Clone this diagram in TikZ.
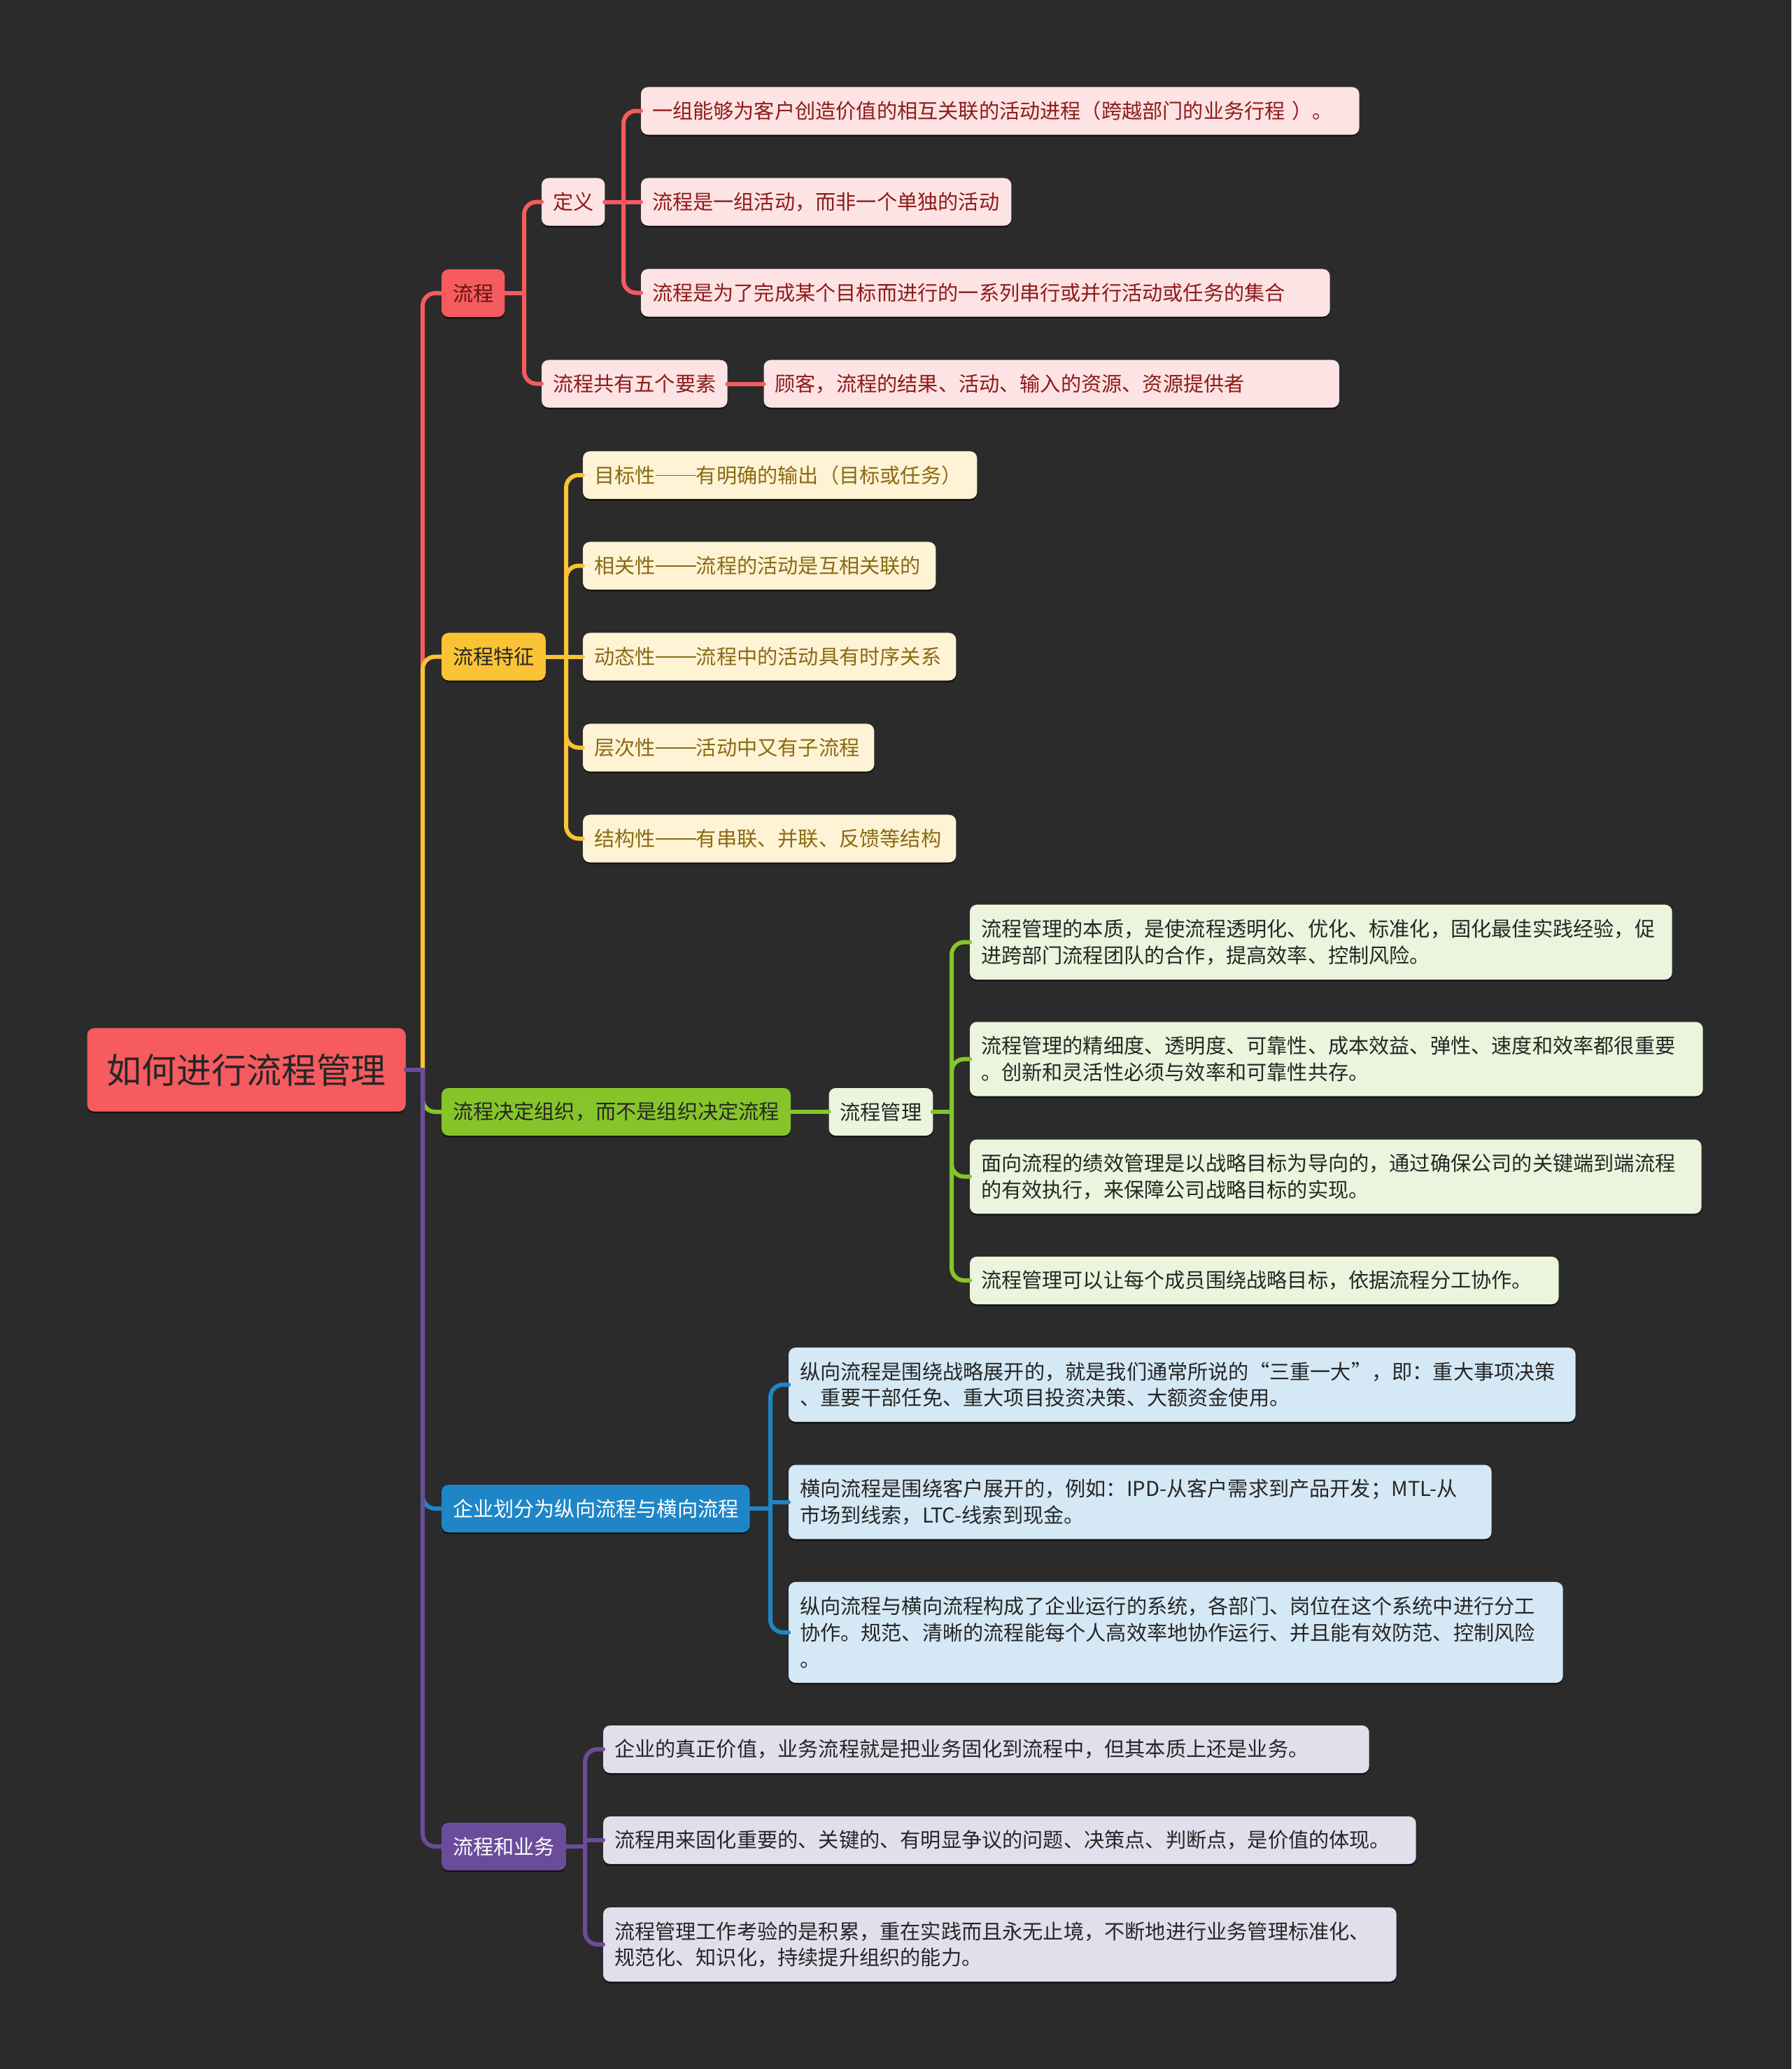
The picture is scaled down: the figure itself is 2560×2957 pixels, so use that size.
\documentclass[tikz,border=0pt]{standalone}
\usepackage{fontspec}
\newfontfamily\cjk{Noto Sans CJK SC}
\usetikzlibrary{shadows}
\definecolor{bg}{HTML}{2B2B2B}
\definecolor{cred}{HTML}{F55B5F}
\definecolor{credl}{HTML}{FDE3E3}
\definecolor{credt}{HTML}{8E1B1B}
\definecolor{cyel}{HTML}{F9C335}
\definecolor{cyell}{HTML}{FEF3D5}
\definecolor{cyelt}{HTML}{8B6A12}
\definecolor{cgrn}{HTML}{86C52A}
\definecolor{cgrnl}{HTML}{EBF4DC}
\definecolor{cblu}{HTML}{1E86C7}
\definecolor{cblul}{HTML}{D5E8F5}
\definecolor{cpur}{HTML}{6B4C9B}
\definecolor{cpurl}{HTML}{E3DEEC}
\definecolor{dtext}{HTML}{262626}
\newcommand\cjkdash{\makebox[2em]{\rule[0.33em]{2em}{0.055em}}}
\newcommand\connR[4]{%
  \draw[ln,#1] (#2.east) -- (#2.east -| #3);
  \draw[ln,#1,rounded corners=0.18cm] (#2.east -| #3) -- (#4.west -| #3) -- (#4.west);}
\newcommand\connS[4]{%
  \draw[ln,#1] (#2.east) -- (#2.east -| #3) -- (#4.west -| #3) -- (#4.west);}
\begin{document}
\begin{tikzpicture}[x=0.01cm,y=-0.01cm,
  box/.style={rounded corners=0.1cm, inner xsep=0.16cm, inner ysep=0pt, outer sep=0pt,
    minimum height=0.68cm, anchor=west, align=left,
    font=\cjk\fontsize{8.3pt}{10.7pt}\selectfont,
    drop shadow={shadow xshift=0pt,shadow yshift=-0.025cm,opacity=0.55,fill=black}},
  rootbox/.style={box, fill=cred, text=dtext, minimum height=1.19cm, minimum width=4.55cm,
    align=center, font=\cjk\fontsize{14.2pt}{17pt}\selectfont},
  rmain/.style={box, fill=cred, text=credt!70!black},
  rleaf/.style={box, fill=credl, text=credt},
  ymain/.style={box, fill=cyel, text=dtext},
  yleaf/.style={box, fill=cyell, text=cyelt},
  gmain/.style={box, fill=cgrn, text=dtext},
  gleaf/.style={box, fill=cgrnl, text=dtext},
  bmain/.style={box, fill=cblu, text=white},
  bleaf/.style={box, fill=cblul, text=dtext},
  pmain/.style={box, fill=cpur, text=white},
  pleaf/.style={box, fill=cpurl, text=dtext},
  ln/.style={line width=0.06cm, line cap=round},
]
\fill[bg] (0,0) rectangle (2560,2957);
\useasboundingbox (0,0) rectangle (2560,2957);

% trunk x positions
\coordinate (tmain) at (604,0);
\coordinate (tliu) at (749,0);
\coordinate (tdef) at (891,0);
\coordinate (ttez) at (809,0);
\coordinate (tgl) at (1360,0);
\coordinate (tqy) at (1101,0);
\coordinate (tyw) at (836,0);

% root
\node[rootbox] (root) at (124.5,1529) {如何进行流程管理};

% level 1
\node[rmain] (liu) at (631,419) {流程};
\node[ymain] (tez) at (631,938.5) {流程特征};
\node[gmain] (jd) at (631,1589) {流程决定组织，而不是组织决定流程};
\node[bmain] (qy) at (631,2156) {企业划分为纵向流程与横向流程};
\node[pmain] (yw) at (631,2639) {流程和业务};

% red
\node[rleaf] (def) at (774,288.5) {定义};
\node[rleaf] (wys) at (774,548.5) {流程共有五个要素};
\node[rleaf, text width=9.94cm] (d1) at (916,158.5) {\mbox{一组能够为客户创造价值的相互关联的活动进程（跨越部门的业务行程 ）。}};
\node[rleaf, text width=4.97cm] (d2) at (916,288.5) {流程是一组活动，而非一个单独的活动};
\node[rleaf, text width=9.52cm] (d3) at (916,418.5) {流程是为了完成某个目标而进行的一系列串行或并行活动或任务的集合};
\node[rleaf, text width=7.90cm] (gk) at (1091.5,548.5) {顾客，流程的结果、活动、输入的资源、资源提供者};

% yellow
\node[yleaf, text width=5.31cm] (y1) at (833,679) {目标性\cjkdash 有明确的输出（目标或任务）};
\node[yleaf, text width=4.72cm] (y2) at (833,808.5) {相关性\cjkdash 流程的活动是互相关联的};
\node[yleaf, text width=5.01cm] (y3) at (833,938.5) {动态性\cjkdash 流程中的活动具有时序关系};
\node[yleaf, text width=3.84cm] (y4) at (833,1068.5) {层次性\cjkdash 活动中又有子流程};
\node[yleaf, text width=5.01cm] (y5) at (833,1198.5) {结构性\cjkdash 有串联、并联、反馈等结构};

% green
\node[gleaf] (glm) at (1184.5,1589) {流程管理};
\node[gleaf, text width=9.71cm, minimum height=1.07cm] (g1) at (1386,1346.5) {流程管理的本质，是使流程透明化、优化、标准化，固化最佳实践经验，促\\进跨部门流程团队的合作，提高效率、控制风险。};
\node[gleaf, text width=10.15cm, minimum height=1.06cm] (g2) at (1386,1513.6) {流程管理的精细度、透明度、可靠性、成本效益、弹性、速度和效率都很重要\\。创新和灵活性必须与效率和可靠性共存。};
\node[gleaf, text width=10.13cm, minimum height=1.06cm] (g3) at (1386,1681.6) {面向流程的绩效管理是以战略目标为导向的，通过确保公司的关键端到端流程\\的有效执行，来保障公司战略目标的实现。};
\node[gleaf, text width=8.09cm] (g4) at (1386,1830) {流程管理可以让每个成员围绕战略目标，依据流程分工协作。};

% blue
\node[bleaf, text width=10.92cm, minimum height=1.06cm] (b1) at (1127,1979) {\mbox{纵向流程是围绕战略展开的，就是我们通常所说的“三重一大”，即：重大事项决策}\\、重要干部任免、重大项目投资决策、大额资金使用。};
\node[bleaf, text width=9.72cm, minimum height=1.06cm] (b2) at (1127,2146.6) {\mbox{横向流程是围绕客户展开的，例如：IPD-从客户需求到产品开发；MTL-从}\\\mbox{市场到线索，LTC-线索到现金。}};
\node[bleaf, text width=10.74cm, minimum height=1.44cm] (b3) at (1127,2333) {纵向流程与横向流程构成了企业运行的系统，各部门、岗位在这个系统中进行分工\\协作。规范、清晰的流程能每个人高效率地协作运行、并且能有效防范、控制风险\\。};

% purple
\node[pleaf, text width=10.62cm] (p1) at (862,2500) {企业的真正价值，业务流程就是把业务固化到流程中，但其本质上还是业务。};
\node[pleaf, text width=11.29cm] (p2) at (862,2630) {流程用来固化重要的、关键的、有明显争议的问题、决策点、判断点，是价值的体现。};
\node[pleaf, text width=11.01cm, minimum height=1.06cm] (p3) at (862,2779) {流程管理工作考验的是积累，重在实践而且永无止境，不断地进行业务管理标准化、\\规范化、知识化，持续提升组织的能力。};

% connectors: main
\connR{cred}{root}{tmain}{liu}
\connR{cyel}{root}{tmain}{tez}
\connR{cgrn}{root}{tmain}{jd}
\connR{cblu}{root}{tmain}{qy}
\connR{cpur}{root}{tmain}{yw}

% red
\connR{cred}{liu}{tliu}{def}
\connR{cred}{liu}{tliu}{wys}
\connR{cred}{def}{tdef}{d1}
\draw[ln,cred] (def.east) -- (d2.west);
\connR{cred}{def}{tdef}{d3}
\draw[ln,cred] (wys.east) -- (gk.west);

% yellow
\connR{cyel}{tez}{ttez}{y1}
\connR{cyel}{tez}{ttez}{y2}
\draw[ln,cyel] (tez.east) -- (y3.west);
\connR{cyel}{tez}{ttez}{y4}
\connR{cyel}{tez}{ttez}{y5}

% green
\draw[ln,cgrn] (jd.east) -- (glm.west);
\connR{cgrn}{glm}{tgl}{g1}
\connR{cgrn}{glm}{tgl}{g2}
\connR{cgrn}{glm}{tgl}{g3}
\connR{cgrn}{glm}{tgl}{g4}

% blue
\connR{cblu}{qy}{tqy}{b1}
\connS{cblu}{qy}{tqy}{b2}
\connR{cblu}{qy}{tqy}{b3}

% purple
\connR{cpur}{yw}{tyw}{p1}
\connS{cpur}{yw}{tyw}{p2}
\connR{cpur}{yw}{tyw}{p3}
\end{tikzpicture}
\end{document}
